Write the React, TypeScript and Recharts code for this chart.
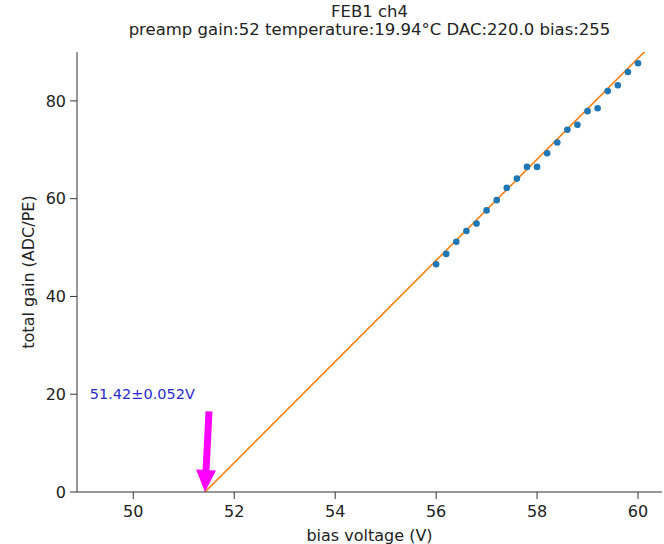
import { ComposedChart, Scatter, Line, XAxis, YAxis, ReferenceLine, ReferenceDot } from 'recharts';

const FONT = 'DejaVu Sans, sans-serif';

const biasVoltage = [56.0, 56.2, 56.4, 56.6, 56.8, 57.0, 57.2, 57.4, 57.6, 57.8, 58.0, 58.2, 58.4, 58.6, 58.8, 59.0, 59.2, 59.4, 59.6, 59.8, 60.0];
const totalGain = [46.6, 48.7, 51.2, 53.4, 54.9, 57.6, 59.7, 62.2, 64.1, 66.5, 66.5, 69.3, 71.5, 74.1, 75.1, 77.9, 78.5, 82.0, 83.2, 85.9, 87.7];

const fitX = [51.42, 60.5];
const fitY = [0, 93.9];

const breakdown = 51.42;
const breakdownLabel = '51.42±0.052V';

const xTicks = [50, 52, 54, 56, 58, 60];
const yTicks = [0, 20, 40, 60, 80];

const points = biasVoltage.map((x, i) => ({ x, y: totalGain[i] }));
const fitLine = fitX.map((x, i) => ({ x, y: fitY[i] }));

function Arrow(props: any) {
  const { x1, y1, x2, y2 } = props;
  const dx = x2 - x1;
  const dy = y2 - y1;
  const len = Math.sqrt(dx * dx + dy * dy);
  const ux = dx / len;
  const uy = dy / len;
  const px = -uy;
  const py = ux;
  const shaftW = 3.5;
  const headW = 10;
  const headL = 22;
  const bx = x2 - ux * headL;
  const by = y2 - uy * headL;
  const pts = [
    [x1 + px * shaftW, y1 + py * shaftW],
    [bx + px * shaftW, by + py * shaftW],
    [bx + px * headW, by + py * headW],
    [x2, y2],
    [bx - px * headW, by - py * headW],
    [bx - px * shaftW, by - py * shaftW],
    [x1 - px * shaftW, y1 - py * shaftW],
  ];
  return <polygon points={pts.map((p) => p.join(',')).join(' ')} fill="#ff00ff" stroke="none" />;
}

export default function App() {
  return (
    <div style={{ position: 'absolute', left: 0, top: 0, width: 664, height: 544, background: '#fff', fontFamily: FONT }}>
      <div style={{ position: 'absolute', left: 77, width: 585, top: 3, textAlign: 'center', fontSize: 16.5, color: '#222', lineHeight: '18px' }}>
        FEB1 ch4
        <br />
        preamp gain:52 temperature:19.94°C DAC:220.0 bias:255
      </div>
      <ComposedChart width={664} height={544} margin={{ top: 52, right: 2, bottom: 0, left: 0 }}>
        <XAxis
          type="number"
          dataKey="x"
          domain={[48.885, 60.475]}
          ticks={xTicks}
          allowDataOverflow
          height={52}
          stroke="#333"
          tickSize={7}
          tickMargin={7}
          tick={{ fill: '#222', fontSize: 16, fontFamily: FONT }}
          label={{ value: 'bias voltage (V)', position: 'insideBottom', offset: 3, fill: '#222', fontSize: 16, fontFamily: FONT }}
        />
        <XAxis xAxisId="top" type="number" orientation="top" domain={[48.885, 60.475]} height={0} tick={false} tickLine={false} stroke="#333" />
        <YAxis
          type="number"
          dataKey="y"
          domain={[0, 90]}
          ticks={yTicks}
          allowDataOverflow
          width={77}
          stroke="#333"
          tickSize={7}
          tickMargin={4}
          tick={{ fill: '#222', fontSize: 16, fontFamily: FONT }}
          label={{ value: 'total gain (ADC/PE)', angle: -90, position: 'insideLeft', offset: 28, style: { textAnchor: 'middle' }, fill: '#222', fontSize: 16, fontFamily: FONT }}
        />
        <YAxis yAxisId="right" orientation="right" domain={[0, 90]} width={0} tick={false} tickLine={false} stroke="#333" />
        <Line data={fitLine} dataKey="y" type="linear" stroke="#ff7f0e" strokeWidth={1.6} dot={false} isAnimationActive={false} />
        <Scatter data={points} dataKey="y" fill="#1f77b4" shape={(p: any) => <circle cx={p.cx} cy={p.cy} r={3.3} fill="#1f77b4" />} isAnimationActive={false} />
        <ReferenceLine segment={[{ x: 51.5, y: 16.5 }, { x: breakdown, y: 0 }]} shape={(p: any) => <Arrow {...p} />} ifOverflow="visible" />
        <ReferenceDot
          x={50.18}
          y={20.0}
          r={0}
          ifOverflow="visible"
          label={{ value: breakdownLabel, position: 'center', fill: '#2a2ad0', fontSize: 14.5, fontFamily: FONT }}
        />
      </ComposedChart>
    </div>
  );
}
